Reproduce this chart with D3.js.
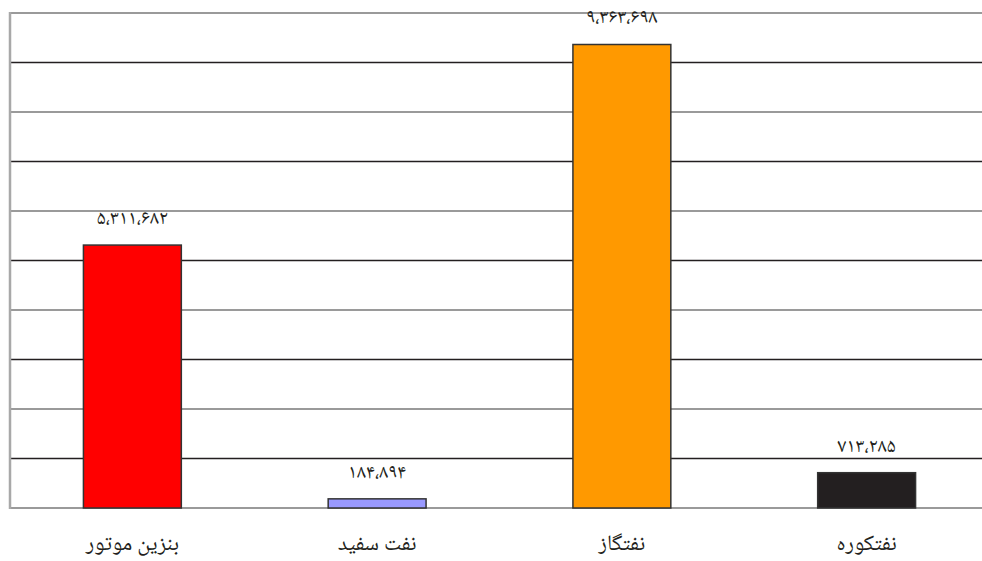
<!DOCTYPE html>
<html lang="fa">
<head>
<meta charset="utf-8">
<script src="https://cdn.jsdelivr.net/npm/d3@7"></script>
<style>
  html, body { margin: 0; padding: 0; background: #fff; }
  svg { display: block; }
  text { font-family: "Noto Naskh Arabic", "DejaVu Sans", serif; fill: #231F20; }
</style>
</head>
<body>
<svg id="chart" width="982" height="561"></svg>
<script>
const categories = ["بنزین موتور", "نفت سفید", "نفتگاز", "نفتکوره"];
const values = [5311682, 184894, 9363698, 713285];
const colors = ["#FF0000", "#9999FF", "#FF9900", "#231F20"];
const yTicks = [0, 1000000, 2000000, 3000000, 4000000, 5000000, 6000000, 7000000, 8000000, 9000000, 10000000];

const svg = d3.select("#chart");
const mLeft = 10, mRight = 989, mTop = 13, mBottom = 508;

const x = d3.scaleBand().domain(categories).range([mLeft, mRight]).padding(0);
const y = d3.scaleLinear().domain([0, 10000000]).range([mBottom, mTop]);

const faDigits = "۰۱۲۳۴۵۶۷۸۹";
function fa(v) {
  return d3.format(",")(v).replace(/\d/g, d => faDigits[+d]).replace(/,/g, "،");
}

// gridlines
svg.append("g").selectAll("line").data(yTicks).join("line")
  .attr("x1", mLeft).attr("x2", 982)
  .attr("y1", d => y(d)).attr("y2", d => y(d))
  .attr("stroke", (d, i) => i % 2 === 0 ? "#9a9a9a" : "#231F20")
  .attr("stroke-width", (d, i) => i % 2 === 0 ? 2.2 : 1.5);

// left frame
svg.append("line")
  .attr("x1", mLeft).attr("x2", mLeft)
  .attr("y1", y(10000000) - 1).attr("y2", y(0) + 1)
  .attr("stroke", "#a8a8a8").attr("stroke-width", 2.5);

const bw = x.bandwidth() * 0.4;
const data = categories.map((c, i) => ({ c, v: values[i], col: colors[i] }));

svg.append("g").selectAll("rect").data(data).join("rect")
  .attr("x", d => x(d.c) + x.bandwidth() / 2 - bw / 2)
  .attr("width", bw)
  .attr("y", d => y(d.v))
  .attr("height", d => y(0) - y(d.v))
  .attr("fill", d => d.col)
  .attr("stroke", "#333")
  .attr("stroke-width", 1.5);

svg.append("g").selectAll("text").data(data).join("text")
  .attr("x", d => x(d.c) + x.bandwidth() / 2)
  .attr("y", d => y(d.v) - 21)
  .attr("text-anchor", "middle")
  .attr("font-size", 20)
  .text(d => fa(d.v));

svg.append("g").selectAll("text").data(data).join("text")
  .attr("x", d => x(d.c) + x.bandwidth() / 2)
  .attr("y", 550)
  .attr("text-anchor", "middle")
  .attr("font-size", 22)
  .attr("direction", "rtl")
  .text(d => d.c);
</script>
</body>
</html>
